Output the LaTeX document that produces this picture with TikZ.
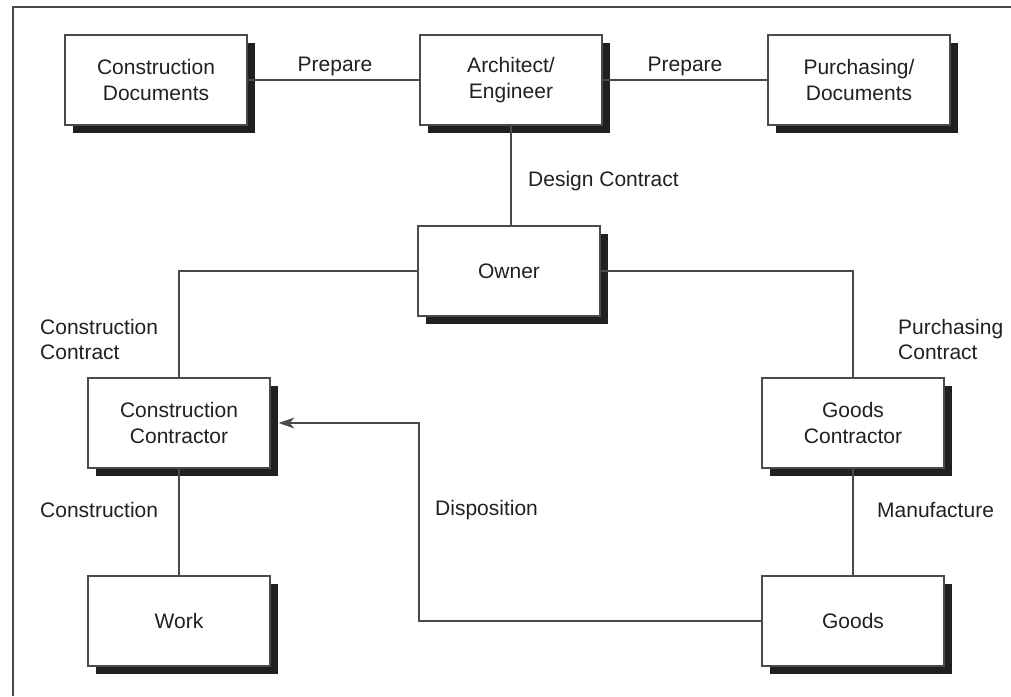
\documentclass[tikz,border=0pt]{standalone}
\usepackage{fontspec}
\setmainfont{Liberation Sans}
\usetikzlibrary{arrows.meta,shadows}
\definecolor{ink}{HTML}{231F20}
\definecolor{linec}{HTML}{4A4A4A}
\tikzset{
  box/.style={draw=linec, line width=1.2pt, fill=white, minimum width=182pt, minimum height=90pt,
    inner sep=0pt, align=center, text=ink, font=\fontsize{21}{26}\selectfont,
    general shadow={fill=ink, shadow xshift=8pt, shadow yshift=-8pt}},
  conn/.style={draw=linec, line width=1.2pt},
  lbl/.style={text=ink, font=\fontsize{21}{25}\selectfont, inner sep=0pt, align=left},
}
\begin{document}
\begin{tikzpicture}[x=1pt,y=-1pt]
\useasboundingbox (0,0) rectangle (1011,696);
\draw[conn] (13,696) |- (1011,7);
\node[box] (cd) at (156,80) {Construction\\Documents};
\node[box] (ae) at (511,80) {Architect/\\Engineer};
\node[box] (pd) at (859,80) {Purchasing/\\Documents};
\node[box] (ow) at (509,271) {Owner};
\node[box] (cc) at (179,423) {Construction\\Contractor};
\node[box] (gc) at (853,423) {Goods\\Contractor};
\node[box] (wk) at (179,621) {Work};
\node[box] (gd) at (853,621) {Goods};
\draw[conn] (cd.east) -- (ae.west);
\draw[conn] (ae.east) -- (pd.west);
\draw[conn] (ae.south) -- (ae.south |- ow.north);
\draw[conn] (ow.west) -| (cc.north);
\draw[conn] (ow.east) -| (gc.north);
\draw[conn] (cc.south) -- (wk.north);
\draw[conn] (gc.south) -- (gd.north);
\coordinate (bend) at (419,621);
\draw[conn, -{Stealth[length=16pt,width=11pt]}] (gd.west) -- (bend) |- ([xshift=8pt]cc.east);
\node[lbl] (l1) at (335,66) {Prepare};
\node[lbl] (l2) at (685,66) {Prepare};
\node[lbl, anchor=base west] (l3) at (528,186) {Design Contract};
\node[lbl, anchor=west] (l4) at (40,339) {Construction\\Contract};
\node[lbl, anchor=west] (l5) at (898,339) {Purchasing\\Contract};
\node[lbl, anchor=west] (l6) at (40,510) {Construction};
\node[lbl, anchor=west] (l7) at (435,510) {Disposition};
\node[lbl, anchor=west] (l8) at (877,510) {Manufacture};
\end{tikzpicture}
\end{document}
